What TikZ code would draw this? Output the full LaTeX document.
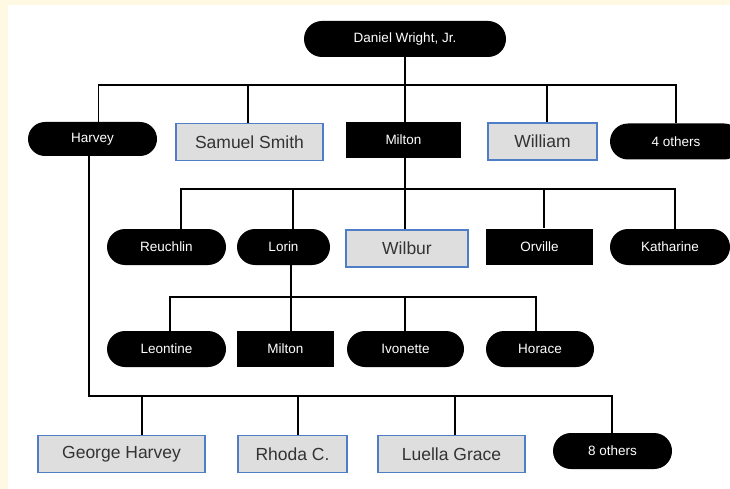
\documentclass[tikz,border=0pt]{standalone}
\usepackage{fontspec}
\setmainfont{Liberation Sans}
\usepackage{xcolor}
\usepackage{tikz}
\usetikzlibrary{positioning,shapes.misc,calc}
\definecolor{TreeCream}{HTML}{FFF9E3}
\definecolor{TreeBlue}{HTML}{4F7EC6}
\definecolor{TreeGray}{HTML}{DEDEDE}
\definecolor{TreeText}{HTML}{333333}
\tikzset{treepill/.style={rounded rectangle, fill=black, text=white, inner sep=0pt, minimum height=36pt, font=\fontsize{13.5}{15}\selectfont}, treerect/.style={rectangle, fill=black, text=white, inner sep=0pt, minimum height=36pt, font=\fontsize{13.5}{15}\selectfont}, treespouse/.style={rectangle, draw=TreeBlue, line width=1.6pt, fill=TreeGray, text=TreeText, inner sep=0pt, minimum height=37pt, font=\fontsize{17.5}{20}\selectfont}, treelink/.style={draw=black, line width=1.9pt}}

\begin{document}
\begin{tikzpicture}[x=1pt, y=1pt]
\useasboundingbox (0,0) rectangle (730,-489);
\fill[TreeCream] (0,0) rectangle (730,-489);
\fill[white] (8,-5) rectangle (730,-489);
% generation 1
\node[treepill, minimum width=202pt] (daniel) at (405,-39) {Daniel Wright, Jr.};
% generation 2
\node[treepill, minimum width=129pt, minimum height=34pt] (harvey) at (92.5,-139) {Harvey};
\node[treespouse, minimum width=147pt] (samuel) at (249.5,-142) {Samuel Smith};
\node[treerect, minimum width=115pt] (milton) at (403.5,-140) {Milton};
\node[treespouse, minimum width=109pt] (william) at (542.5,-141.5) {William};
\node[treepill, minimum width=132pt] (fourothers) at (676,-141.5) {4 others};
% generation 3
\node[treepill, minimum width=119pt] (reuchlin) at (166.5,-247) {Reuchlin};
\node[treepill, minimum width=93pt] (lorin) at (283.5,-247) {Lorin};
\node[treespouse, minimum width=122pt] (wilbur) at (407,-248.5) {Wilbur};
\node[treerect, minimum width=107pt] (orville) at (539.5,-246.5) {Orville};
\node[treepill, minimum width=120pt] (katharine) at (670,-247) {Katharine};
% generation 4
\node[treepill, minimum width=119pt] (leontine) at (166.5,-349) {Leontine};
\node[treerect, minimum width=97pt] (miltonjr) at (285.5,-349) {Milton};
\node[treepill, minimum width=117pt] (ivonette) at (405.5,-349) {Ivonette};
\node[treepill, minimum width=108pt] (horace) at (540,-349) {Horace};
% Harvey's children
\node[treespouse, minimum width=167pt] (george) at (121.5,-454) {George Harvey};
\node[treespouse, minimum width=109pt] (rhoda) at (292.5,-454) {Rhoda C.};
\node[treespouse, minimum width=147pt] (luella) at (451.5,-454) {Luella Grace};
\node[treepill, minimum width=119pt] (eightothers) at (612.5,-451) {8 others};
% links
\draw[treelink] (daniel.south) -- ++(0,-28) -| ([xshift=6pt]harvey.north);
\draw[treelink] (daniel.south) -- ++(0,-28) -| ([xshift=-1.5pt]samuel.north);
\draw[treelink] (daniel.south) -- (daniel.south |- milton.north);
\draw[treelink] (daniel.south) -- ++(0,-28) -| ([xshift=4.5pt]william.north);
\draw[treelink] (daniel.south) -- ++(0,-28) -| (fourothers.north);
\draw[treelink] ([xshift=1.5pt]milton.south) -- ++(0,-31) -| ([xshift=14.5pt]reuchlin.north);
\draw[treelink] ([xshift=1.5pt]milton.south) -- ++(0,-31) -| ([xshift=9.5pt]lorin.north);
\draw[treelink] ([xshift=1.5pt]milton.south) -- ([xshift=1.5pt]milton.south |- wilbur.north);
\draw[treelink] ([xshift=1.5pt]milton.south) -- ++(0,-31) -| ([xshift=4.5pt]orville.north);
\draw[treelink] ([xshift=1.5pt]milton.south) -- ++(0,-31) -| ([xshift=5pt]katharine.north);
\draw[treelink] ([xshift=7.5pt]lorin.south) -- ++(0,-32) -| ([xshift=3.5pt]leontine.north);
\draw[treelink] ([xshift=7.5pt]lorin.south) -- ([xshift=7.5pt]lorin.south |- miltonjr.north);
\draw[treelink] ([xshift=7.5pt]lorin.south) -- ++(0,-32) -| ([xshift=-0.5pt]ivonette.north);
\draw[treelink] ([xshift=7.5pt]lorin.south) -- ++(0,-32) -| ([xshift=-4pt]horace.north);
\draw[treelink] ([xshift=-3.5pt]harvey.south) -- ++(0,-240) -| ([xshift=20.5pt]george.north);
\draw[treelink] ([xshift=-3.5pt]harvey.south) -- ++(0,-240) -| ([xshift=5.5pt]rhoda.north);
\draw[treelink] ([xshift=-3.5pt]harvey.south) -- ++(0,-240) -| ([xshift=3.5pt]luella.north);
\draw[treelink] ([xshift=-3.5pt]harvey.south) -- ++(0,-240) -| ([xshift=-0.5pt]eightothers.north);
\end{tikzpicture}
\end{document}
